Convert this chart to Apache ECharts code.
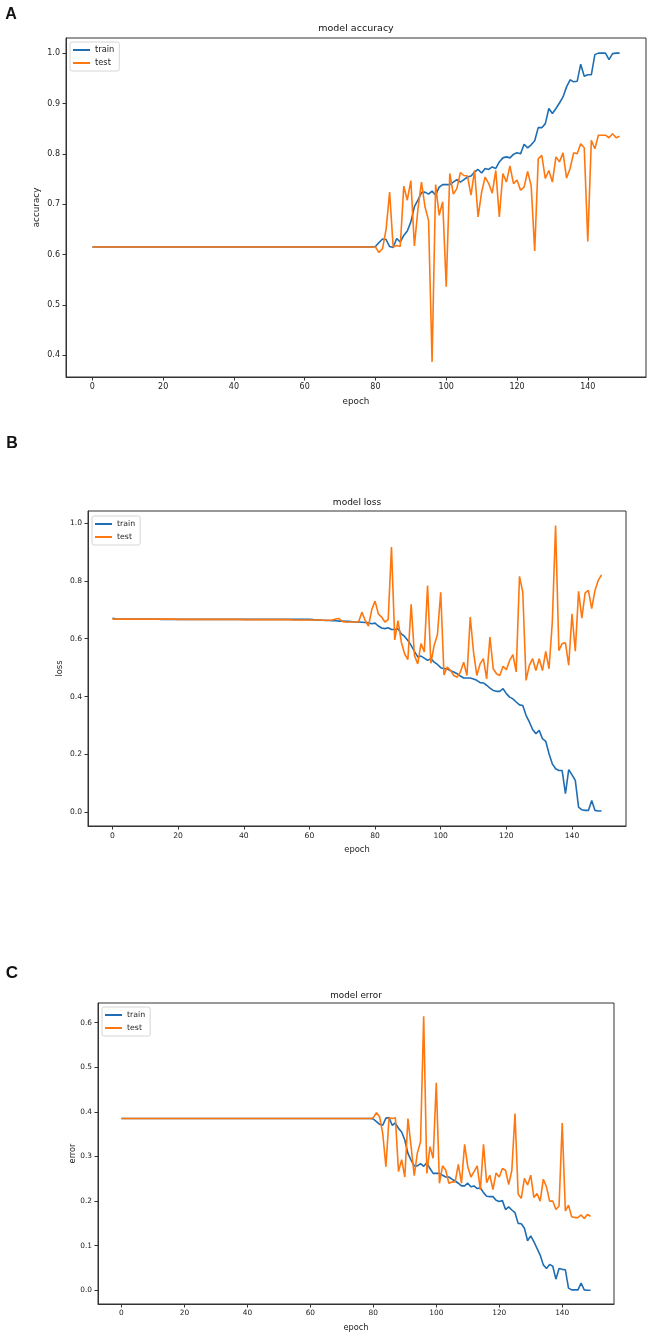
<!DOCTYPE html>
<html>
<head>
<meta charset="utf-8">
<title>model accuracy / loss / error</title>
<script src="https://cdn.jsdelivr.net/npm/echarts@6/dist/echarts.min.js"></script>
<style>
  html, body { margin: 0; padding: 0; background: #fff; }
  #chart { width: 661px; height: 1339px; }
</style>
</head>
<body>
<div id="chart"></div>
<script>
// ---- data (index = epoch 0..149) ----
var accTrain = [
  0.615, 0.615, 0.615, 0.615, 0.615, 0.615, 0.615, 0.615, 0.615, 0.615,
  0.615, 0.615, 0.615, 0.615, 0.615, 0.615, 0.615, 0.615, 0.615, 0.615,
  0.615, 0.615, 0.615, 0.615, 0.615, 0.615, 0.615, 0.615, 0.615, 0.615,
  0.615, 0.615, 0.615, 0.615, 0.615, 0.615, 0.615, 0.615, 0.615, 0.615,
  0.615, 0.615, 0.615, 0.615, 0.615, 0.615, 0.615, 0.615, 0.615, 0.615,
  0.615, 0.615, 0.615, 0.615, 0.615, 0.615, 0.615, 0.615, 0.615, 0.615,
  0.615, 0.615, 0.615, 0.615, 0.615, 0.615, 0.615, 0.615, 0.615, 0.615,
  0.615, 0.615, 0.615, 0.615, 0.615, 0.615, 0.615, 0.615, 0.615, 0.615,
  0.616, 0.624, 0.631, 0.630, 0.616, 0.614, 0.632, 0.625, 0.638, 0.647,
  0.665, 0.695, 0.708, 0.723, 0.724, 0.720, 0.726, 0.718, 0.734, 0.739,
  0.739, 0.739, 0.744, 0.749, 0.744, 0.749, 0.754, 0.756, 0.764, 0.769,
  0.762, 0.771, 0.769, 0.774, 0.771, 0.784, 0.792, 0.794, 0.792, 0.799,
  0.802, 0.800, 0.819, 0.812, 0.818, 0.826, 0.852, 0.852, 0.860, 0.890,
  0.880, 0.890, 0.901, 0.913, 0.933, 0.947, 0.943, 0.944, 0.978, 0.954,
  0.957, 0.957, 0.997, 1.000, 1.000, 1.000, 0.987, 0.999, 1.000, 1.000
];
var accTest = [
  0.615, 0.615, 0.615, 0.615, 0.615, 0.615, 0.615, 0.615, 0.615, 0.615,
  0.615, 0.615, 0.615, 0.615, 0.615, 0.615, 0.615, 0.615, 0.615, 0.615,
  0.615, 0.615, 0.615, 0.615, 0.615, 0.615, 0.615, 0.615, 0.615, 0.615,
  0.615, 0.615, 0.615, 0.615, 0.615, 0.615, 0.615, 0.615, 0.615, 0.615,
  0.615, 0.615, 0.615, 0.615, 0.615, 0.615, 0.615, 0.615, 0.615, 0.615,
  0.615, 0.615, 0.615, 0.615, 0.615, 0.615, 0.615, 0.615, 0.615, 0.615,
  0.615, 0.615, 0.615, 0.615, 0.615, 0.615, 0.615, 0.615, 0.615, 0.615,
  0.615, 0.615, 0.615, 0.615, 0.615, 0.615, 0.615, 0.615, 0.615, 0.615,
  0.615, 0.604, 0.612, 0.650, 0.724, 0.615, 0.618, 0.616, 0.736, 0.708,
  0.747, 0.617, 0.690, 0.744, 0.695, 0.668, 0.387, 0.739, 0.678, 0.705,
  0.536, 0.761, 0.720, 0.731, 0.763, 0.757, 0.756, 0.718, 0.767, 0.675,
  0.724, 0.754, 0.741, 0.722, 0.767, 0.675, 0.761, 0.744, 0.776, 0.741,
  0.748, 0.728, 0.734, 0.765, 0.737, 0.607, 0.790, 0.797, 0.751, 0.767,
  0.744, 0.794, 0.784, 0.802, 0.752, 0.771, 0.802, 0.800, 0.820, 0.812,
  0.626, 0.827, 0.810, 0.837, 0.837, 0.837, 0.832, 0.840, 0.832, 0.835
];
var lossTrain = [
  0.671, 0.669, 0.668, 0.668, 0.668, 0.668, 0.668, 0.668, 0.668, 0.668,
  0.668, 0.668, 0.668, 0.668, 0.668, 0.667, 0.667, 0.667, 0.667, 0.667,
  0.667, 0.667, 0.667, 0.667, 0.667, 0.667, 0.667, 0.667, 0.667, 0.667,
  0.667, 0.667, 0.667, 0.667, 0.667, 0.667, 0.667, 0.667, 0.667, 0.667,
  0.667, 0.667, 0.667, 0.667, 0.667, 0.667, 0.667, 0.667, 0.667, 0.667,
  0.667, 0.667, 0.667, 0.667, 0.667, 0.667, 0.667, 0.667, 0.667, 0.667,
  0.667, 0.666, 0.665, 0.665, 0.664, 0.663, 0.663, 0.662, 0.662, 0.661,
  0.661, 0.660, 0.660, 0.659, 0.658, 0.658, 0.657, 0.656, 0.655, 0.652,
  0.654, 0.644, 0.637, 0.635, 0.638, 0.632, 0.632, 0.634, 0.617, 0.608,
  0.594, 0.577, 0.556, 0.537, 0.540, 0.533, 0.525, 0.531, 0.519, 0.511,
  0.500, 0.496, 0.496, 0.489, 0.485, 0.479, 0.471, 0.464, 0.464, 0.464,
  0.461, 0.456, 0.448, 0.447, 0.439, 0.429, 0.421, 0.418, 0.418, 0.427,
  0.410, 0.398, 0.392, 0.381, 0.371, 0.369, 0.335, 0.312, 0.286, 0.271,
  0.283, 0.254, 0.245, 0.202, 0.167, 0.150, 0.144, 0.144, 0.064, 0.147,
  0.129, 0.110, 0.017, 0.008, 0.006, 0.006, 0.040, 0.006, 0.004, 0.004
];
var lossTest = [
  0.668, 0.668, 0.668, 0.668, 0.668, 0.668, 0.668, 0.668, 0.668, 0.668,
  0.668, 0.668, 0.668, 0.668, 0.668, 0.668, 0.668, 0.668, 0.668, 0.668,
  0.667, 0.667, 0.667, 0.667, 0.667, 0.667, 0.667, 0.667, 0.667, 0.667,
  0.667, 0.667, 0.667, 0.667, 0.667, 0.667, 0.667, 0.667, 0.667, 0.667,
  0.666, 0.666, 0.666, 0.666, 0.666, 0.666, 0.666, 0.666, 0.666, 0.666,
  0.666, 0.666, 0.666, 0.666, 0.666, 0.665, 0.665, 0.665, 0.665, 0.665,
  0.665, 0.665, 0.665, 0.665, 0.664, 0.664, 0.664, 0.665, 0.668, 0.670,
  0.660, 0.658, 0.658, 0.658, 0.658, 0.659, 0.692, 0.663, 0.644, 0.701,
  0.730, 0.686, 0.675, 0.658, 0.666, 0.917, 0.596, 0.663, 0.588, 0.548,
  0.528, 0.719, 0.542, 0.513, 0.583, 0.554, 0.784, 0.515, 0.577, 0.614,
  0.761, 0.475, 0.502, 0.490, 0.473, 0.467, 0.485, 0.519, 0.473, 0.675,
  0.554, 0.473, 0.513, 0.531, 0.461, 0.606, 0.496, 0.479, 0.473, 0.505,
  0.493, 0.525, 0.545, 0.485, 0.816, 0.761, 0.456, 0.508, 0.531, 0.490,
  0.531, 0.490, 0.556, 0.496, 0.658, 0.992, 0.559, 0.583, 0.586, 0.508,
  0.686, 0.557, 0.764, 0.671, 0.759, 0.767, 0.704, 0.767, 0.802, 0.821
];
var errTrain = [
  0.385, 0.385, 0.385, 0.385, 0.385, 0.385, 0.385, 0.385, 0.385, 0.385,
  0.385, 0.385, 0.385, 0.385, 0.385, 0.385, 0.385, 0.385, 0.385, 0.385,
  0.385, 0.385, 0.385, 0.385, 0.385, 0.385, 0.385, 0.385, 0.385, 0.385,
  0.385, 0.385, 0.385, 0.385, 0.385, 0.385, 0.385, 0.385, 0.385, 0.385,
  0.385, 0.385, 0.385, 0.385, 0.385, 0.385, 0.385, 0.385, 0.385, 0.385,
  0.385, 0.385, 0.385, 0.385, 0.385, 0.385, 0.385, 0.385, 0.385, 0.385,
  0.385, 0.385, 0.385, 0.385, 0.385, 0.385, 0.385, 0.385, 0.385, 0.385,
  0.385, 0.385, 0.385, 0.385, 0.385, 0.385, 0.385, 0.385, 0.385, 0.385,
  0.384, 0.378, 0.372, 0.370, 0.386, 0.387, 0.370, 0.375, 0.363, 0.355,
  0.337, 0.307, 0.292, 0.279, 0.279, 0.284, 0.278, 0.286, 0.273, 0.262,
  0.262, 0.262, 0.258, 0.254, 0.254, 0.249, 0.245, 0.240, 0.234, 0.234,
  0.240, 0.232, 0.234, 0.228, 0.230, 0.219, 0.211, 0.210, 0.210, 0.202,
  0.199, 0.201, 0.181, 0.187, 0.180, 0.174, 0.150, 0.149, 0.139, 0.111,
  0.122, 0.109, 0.094, 0.079, 0.057, 0.049, 0.058, 0.054, 0.025, 0.049,
  0.047, 0.046, 0.005, 0.001, 0.001, 0.001, 0.016, 0.001, 0.000, 0.000
];
var errTest = [
  0.385, 0.385, 0.385, 0.385, 0.385, 0.385, 0.385, 0.385, 0.385, 0.385,
  0.385, 0.385, 0.385, 0.385, 0.385, 0.385, 0.385, 0.385, 0.385, 0.385,
  0.385, 0.385, 0.385, 0.385, 0.385, 0.385, 0.385, 0.385, 0.385, 0.385,
  0.385, 0.385, 0.385, 0.385, 0.385, 0.385, 0.385, 0.385, 0.385, 0.385,
  0.385, 0.385, 0.385, 0.385, 0.385, 0.385, 0.385, 0.385, 0.385, 0.385,
  0.385, 0.385, 0.385, 0.385, 0.385, 0.385, 0.385, 0.385, 0.385, 0.385,
  0.385, 0.385, 0.385, 0.385, 0.385, 0.385, 0.385, 0.385, 0.385, 0.385,
  0.385, 0.385, 0.385, 0.385, 0.385, 0.385, 0.385, 0.385, 0.385, 0.385,
  0.387, 0.398, 0.389, 0.351, 0.277, 0.387, 0.385, 0.387, 0.266, 0.293,
  0.254, 0.385, 0.322, 0.257, 0.308, 0.333, 0.614, 0.262, 0.322, 0.296,
  0.465, 0.240, 0.279, 0.269, 0.240, 0.243, 0.243, 0.282, 0.240, 0.327,
  0.277, 0.254, 0.266, 0.279, 0.225, 0.327, 0.241, 0.258, 0.226, 0.263,
  0.254, 0.273, 0.269, 0.237, 0.269, 0.396, 0.216, 0.206, 0.251, 0.236,
  0.258, 0.208, 0.217, 0.200, 0.249, 0.232, 0.200, 0.200, 0.181, 0.189,
  0.375, 0.178, 0.191, 0.165, 0.163, 0.163, 0.169, 0.161, 0.170, 0.166
];

var epochTicks = [0, 20, 40, 60, 80, 100, 120, 140];
var accTicks = [0.4, 0.5, 0.6, 0.7, 0.8, 0.9, 1.0];
var lossTicks = [0.0, 0.2, 0.4, 0.6, 0.8, 1.0];
var errTicks = [0.0, 0.1, 0.2, 0.3, 0.4, 0.5, 0.6];

var BLUE = '#1f6eb3';
var ORANGE = '#ff770f';
var FONT = 'DejaVu Sans';

function pairs(arr) {
    return arr.map(function (v, i) { return [i, v]; });
}

function xAxisFor(gi, fs) {
    return {
        type: 'value', gridIndex: gi, min: -7.45, max: 156.45,
        name: 'epoch', nameLocation: 'middle', nameGap: 20, nameMoveOverlap: false,
        nameTextStyle: { fontFamily: FONT, fontSize: fs + 0.8, color: '#222' },
        axisLine: { show: true, onZero: false, lineStyle: { color: '#333', width: 1 } },
        axisTick: { show: true, inside: false, length: 3.5, customValues: epochTicks,
                    lineStyle: { color: '#333' } },
        axisLabel: { customValues: epochTicks, margin: 6, fontFamily: FONT, fontSize: fs, color: '#222',
                     formatter: function (v) { return String(Math.round(v)); } },
        splitLine: { show: false }
    };
}

function yAxisFor(gi, name, ticks, min, max, gap, fs) {
    return {
        type: 'value', gridIndex: gi, min: min, max: max,
        name: name, nameLocation: 'middle', nameGap: gap, nameRotate: 90, nameMoveOverlap: false,
        nameTextStyle: { fontFamily: FONT, fontSize: fs + 0.8, color: '#222' },
        axisLine: { show: true, onZero: false, lineStyle: { color: '#333', width: 1 } },
        axisTick: { show: true, inside: false, length: 3.5, customValues: ticks,
                    lineStyle: { color: '#333' } },
        axisLabel: { customValues: ticks, margin: 6, fontFamily: FONT, fontSize: fs, color: '#222',
                     formatter: function (v) { return v.toFixed(1); } },
        splitLine: { show: false }
    };
}

function legendFor(left, top, fs) {
    return {
        orient: 'vertical', left: left, top: top,
        data: ['train', 'test'],
        icon: 'rect', itemWidth: 17, itemHeight: 2, itemGap: 3,
        padding: [3, 5, 3, 3],
        borderColor: '#d6d6d6', borderWidth: 1, borderRadius: 2,
        backgroundColor: '#fff',
        selectedMode: false,
        textStyle: { fontFamily: FONT, fontSize: fs, color: '#222', lineHeight: 10 }
    };
}

function lineSeries(name, data, gi, color) {
    return {
        name: name, type: 'line', xAxisIndex: gi, yAxisIndex: gi,
        data: pairs(data), showSymbol: false, symbol: 'none',
        lineStyle: { color: color, width: 1.6 },
        itemStyle: { color: color },
        animation: false
    };
}

function label(text, x, y, size, bold, family) {
    return {
        type: 'text', x: x, y: y,
        style: { text: text, fontFamily: family || FONT, fontSize: size,
                 fontWeight: bold ? 'bold' : 'normal', fill: '#111',
                 align: 'center', verticalAlign: 'middle' }
    };
}

var chart = echarts.init(document.getElementById('chart'), null, { renderer: 'canvas' });

var option = {
    animation: false,
    backgroundColor: '#fff',
    grid: [
        { left: 66, right: 15, top: 38, height: 339, show: true, borderColor: '#333', borderWidth: 1 },
        { left: 88, right: 35, top: 511, height: 315, show: true, borderColor: '#333', borderWidth: 1 },
        { left: 98, right: 47, top: 1003, height: 301, show: true, borderColor: '#333', borderWidth: 1 }
    ],
    xAxis: [xAxisFor(0, 8), xAxisFor(1, 7.6), xAxisFor(2, 7.4)],
    yAxis: [
        yAxisFor(0, 'accuracy', accTicks, 0.357, 1.030, 25, 8),
        yAxisFor(1, 'loss', lossTicks, -0.048, 1.042, 24, 7.6),
        yAxisFor(2, 'error', errTicks, -0.0307, 0.644, 21, 7.4)
    ],
    legend: [legendFor(70, 42, 8.3), legendFor(92, 516, 7.8), legendFor(102, 1007, 7.8)],
    graphic: [
        label('A', 11, 15, 16, true, 'Liberation Sans'),
        label('B', 12, 444, 16, true, 'Liberation Sans'),
        label('C', 12, 973, 17, true, 'Liberation Sans'),
        label('model accuracy', 356, 29, 9.5),
        label('model loss', 357, 503, 9),
        label('model error', 356, 996, 8.8)
    ],
    series: [
        lineSeries('train', accTrain, 0, BLUE),
        lineSeries('test', accTest, 0, ORANGE),
        lineSeries('train', lossTrain, 1, BLUE),
        lineSeries('test', lossTest, 1, ORANGE),
        lineSeries('train', errTrain, 2, BLUE),
        lineSeries('test', errTest, 2, ORANGE)
    ]
};

chart.setOption(option);
</script>
</body>
</html>
